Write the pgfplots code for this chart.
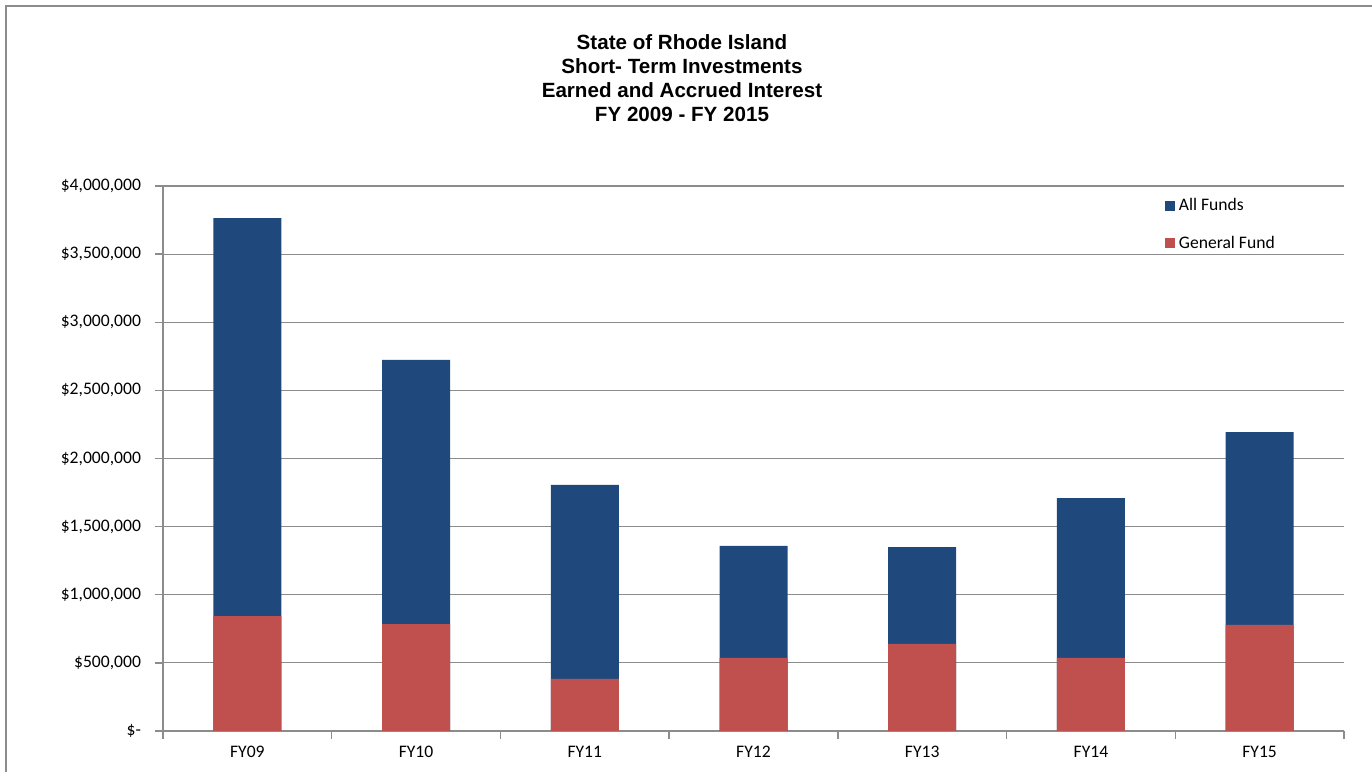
\documentclass[border=0pt]{standalone}
\usepackage{fontspec}
\setmainfont{Carlito}
\newfontfamily\titlefont{Liberation Sans}
\usepackage{pgfplots}
\pgfplotsset{compat=1.18}
\definecolor{allfunds}{HTML}{1F497D}
\definecolor{genfund}{HTML}{C0504D}
\definecolor{axisgray}{HTML}{8C8C8C}

\begin{document}
\begin{tikzpicture}
\useasboundingbox (0,0) rectangle (686pt,386pt);
\draw[axisgray, line width=0.6pt] (3pt,0) -- (3pt,383pt) -- (686pt,383pt);
\node[align=center, font=\titlefont\bfseries\fontsize{10.3}{12}\selectfont] at (341pt,347pt)
  {State of Rhode Island\\Short- Term Investments\\Earned and Accrued Interest\\FY 2009 - FY 2015};
\begin{axis}[
    at={(81.5pt,20.5pt)}, anchor=south west,
    scale only axis, width=590.5pt, height=272.5pt,
    ymin=0, ymax=4000000,
    xmin=-0.5, xmax=6.5,
    scaled y ticks=false,
    axis x line*=bottom, axis y line*=left,
    axis line style={axisgray, line width=0.7pt},
    ytick={0,500000,...,4000000},
    yticklabels={\$-,\$500{,}000,\$1{,}000{,}000,\$1{,}500{,}000,\$2{,}000{,}000,\$2{,}500{,}000,\$3{,}000{,}000,\$3{,}500{,}000,\$4{,}000{,}000},
    xtick={0,...,6},
    xticklabels={FY09,FY10,FY11,FY12,FY13,FY14,FY15},
    minor xtick={-0.5,0.5,...,6.5},
    major x tick style={draw=none},
    tick align=outside,
    tick style={axisgray, line width=0.7pt},
    major tick length=4pt, minor tick length=4pt,
    ymajorgrids, grid style={axisgray, line width=0.6pt},
    tick label style={font=\fontsize{8.8}{10}\selectfont},
    yticklabel style={xshift=-3.5pt},
    ybar, bar width=34pt, bar shift=0pt,
    legend style={at={(0.848,0.985)}, anchor=north west, draw=none, fill=none,
      font=\fontsize{8.8}{10}\selectfont, row sep=7pt, inner sep=0pt,
      cells={anchor=west}},
    legend image code/.code={\fill[#1] (0pt,-2.5pt) rectangle (5pt,2.5pt);},
    legend style={/tikz/every even column/.append style={column sep=1pt}},
]
\addplot[fill=allfunds, draw=none] coordinates {(0,3765000) (1,2723000) (2,1806000) (3,1358000) (4,1350000) (5,1710000) (6,2194000)};
\addplot[fill=genfund, draw=none] coordinates {(0,844000) (1,785000) (2,382000) (3,536000) (4,639000) (5,536000) (6,778000)};
\legend{All Funds, General Fund}
\end{axis}
\end{tikzpicture}
\end{document}
